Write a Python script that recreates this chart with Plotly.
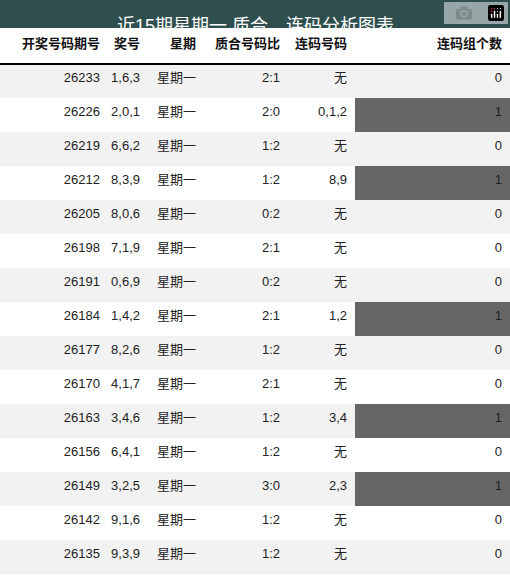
import plotly.graph_objects as go

title = "近15期星期一 质合，连码分析图表"
headers = ["开奖号码期号", "奖号", "星期", "质合号码比", "连码号码", "连码组个数"]
periods = ["26233","26226","26219","26212","26205","26198","26191","26184","26177","26170","26163","26156","26149","26142","26135"]
numbers = ["1,6,3","2,0,1","6,6,2","8,3,9","8,0,6","7,1,9","0,6,9","1,4,2","8,2,6","4,1,7","3,4,6","6,4,1","3,2,5","9,1,6","9,3,9"]
weekday = ["星期一"] * 15
ratio = ["2:1","2:0","1:2","1:2","0:2","2:1","0:2","2:1","1:2","2:1","1:2","1:2","3:0","1:2","1:2"]
consec = ["无","0,1,2","无","8,9","无","无","无","1,2","无","无","3,4","无","2,3","无","无"]
count = [0,1,0,1,0,0,0,1,0,0,1,0,1,0,0]

W, H = 510, 575
FONT = "Liberation Sans, Noto Sans CJK SC"
base = ["#f2f2f2" if i % 2 == 0 else "#ffffff" for i in range(15)]
last = ["#666666" if c > 0 else base[i] for i, c in enumerate(count)]
fills = [base, base, base, base, base, last]

fig = go.Figure(go.Table(
    columnwidth=[108, 40, 56, 84, 67, 155],
    domain=dict(x=[0, 1], y=[0, 1 - 28 / H]),
    header=dict(values=[f"<b>{h}</b>" for h in headers], height=36, align="right",
                fill_color="white", line=dict(width=0),
                font=dict(family=FONT, size=13, color="#111")),
    cells=dict(values=[periods, numbers, weekday, ratio, consec, count], height=34, align="right",
               fill_color=fills, line=dict(width=0),
               font=dict(family=FONT, size=13, color="#222")),
))
fig.add_shape(type="rect", xref="paper", yref="paper", x0=0, x1=1, y0=1 - 28 / H, y1=1,
              fillcolor="#2f4f4f", line=dict(width=0))
fig.add_shape(type="line", xref="paper", yref="paper", x0=0, x1=1, y0=1 - 64 / H, y1=1 - 64 / H,
              line=dict(color="black", width=2), layer="above")
fig.add_annotation(text=title, xref="paper", yref="paper", x=0.5, y=1 - 14 / H, showarrow=False,
                   font=dict(family=FONT, size=18, color="white"))
fig.update_layout(width=W, height=H, margin=dict(l=0, r=0, t=0, b=0),
                  paper_bgcolor="white", plot_bgcolor="white")
fig.write_html("out.html", post_script="document.body.style.margin='0';document.body.style.overflow='hidden';")
